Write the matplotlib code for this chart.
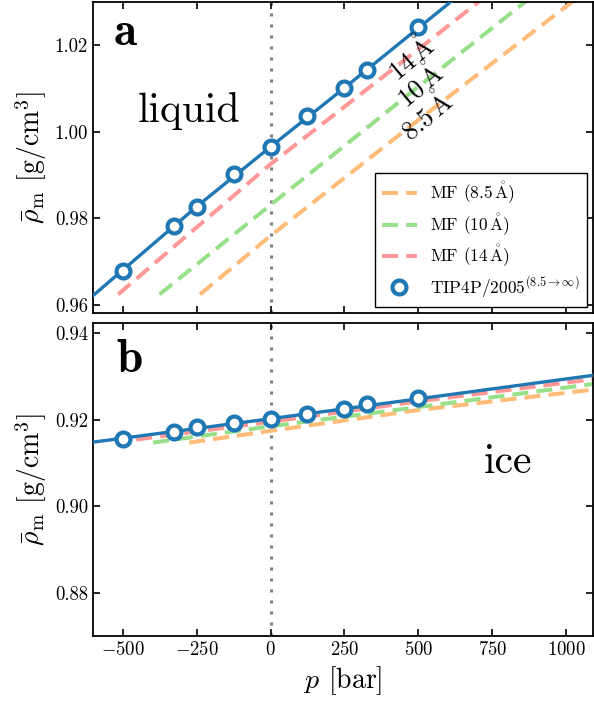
import numpy as np
import matplotlib
matplotlib.use("Agg")
import matplotlib.pyplot as plt

plt.rcParams['font.family'] = ['cmr10', 'STIXGeneral']
plt.rcParams['mathtext.fontset'] = 'cm'
plt.rcParams['axes.formatter.use_mathtext'] = True

# simulation points (TIP4P/2005)
p_sim = [-500, -325, -250, -125, 0, 125, 250, 325, 500]
rho_liq_sim = [0.9678, 0.9782, 0.9827, 0.9902, 0.9965, 1.0035, 1.0101, 1.0142, 1.0241]
rho_ice_sim = [0.9156, 0.9171, 0.9183, 0.9191, 0.9202, 0.9214, 0.9224, 0.9235, 0.9249]

# fit line through simulation
p_fit_liq = [-600, -250, 0, 250, 614]
rho_fit_liq = [0.9622, 0.9827, 0.9965, 1.0101, 1.0302]
p_fit_ice = [-600, 0, 1090]
rho_fit_ice = [0.9148, 0.9202, 0.9302]

# mean-field curves, liquid
p_mf_liq = {'8.5': [-238, 0, 500, 1025], '10': [-375, 0, 500, 866], '14': [-515, 0, 500, 709]}
rho_mf_liq = {'8.5': [0.9625, 0.9760, 1.0027, 1.0302],
              '10': [0.9625, 0.9831, 1.0104, 1.0302],
              '14': [0.9625, 0.9925, 1.0190, 1.0302]}
# mean-field curves, ice
p_mf_ice = {'8.5': [-275, 0, 500, 1090], '10': [-397, 0, 500, 1090], '14': [-454, 0, 500, 1090]}
rho_mf_ice = {'8.5': [0.9147, 0.9174, 0.9222, 0.9269],
              '10': [0.9147, 0.91845, 0.9229, 0.9282],
              '14': [0.9154, 0.9195, 0.9242, 0.9293]}

cutoffs = ['8.5', '10', '14']
mf_colors = {'8.5': '#ffbb78', '10': '#98df8a', '14': '#ff9896'}
blue = '#1f77b4'
ang = r'$\,\mathring{\mathrm{A}}$'

xticks = [-500, -250, 0, 250, 500, 750, 1000]
yticks_liq = [0.96, 0.98, 1.00, 1.02]
yticks_ice = [0.88, 0.90, 0.92, 0.94]

fig = plt.figure(figsize=(5.94, 7.02), dpi=100)
ax1 = fig.add_axes([93/594, 1-313/702, 500/594, 311.5/702])
ax2 = fig.add_axes([93/594, 1-636/702, 500/594, 312.7/702])

for ax, pf, rf, pm, rm, rs in [(ax1, p_fit_liq, rho_fit_liq, p_mf_liq, rho_mf_liq, rho_liq_sim),
                               (ax2, p_fit_ice, rho_fit_ice, p_mf_ice, rho_mf_ice, rho_ice_sim)]:
    ax.axvline(0, color='#808080', lw=2.2, dashes=(1, 2.6), zorder=1)
    for c in cutoffs:
        ax.plot(pm[c], rm[c], color=mf_colors[c], lw=2.9, dashes=(4, 2),
                label='MF (' + c + ang + ')', zorder=2)
    ax.plot(pf, rf, color=blue, lw=2.4, zorder=3)
    ax.plot(p_sim, rs, 'o', color=blue, mfc='white', ms=10, mew=3,
            label=r'TIP4P/2005$^{(8.5\to\infty)}$', zorder=4)
    ax.set_xlim(-600, 1090)
    ax.set_xticks(xticks)
    ax.tick_params(direction='in', top=True, right=True, length=5, width=1.2, labelsize=13.5)
    for s in ax.spines.values():
        s.set_linewidth(1.3)
    ax.set_ylabel(r'$\bar{\rho}_\mathrm{m}$ [g/cm$^3$]', fontsize=20)

ax1.set_ylim(0.9582, 1.0300)
ax1.set_yticks(yticks_liq)
ax1.set_yticklabels(['%.2f' % v for v in yticks_liq])
ax1.tick_params(labelbottom=False)
ax2.set_ylim(0.8701, 0.9422)
ax2.set_yticks(yticks_ice)
ax2.set_yticklabels(['%.2f' % v for v in yticks_ice])
ax2.set_xticklabels(['$-500$', '$-250$', '$0$', '$250$', '$500$', '$750$', '$1000$'])
ax2.set_xlabel(r'$p$ [bar]', fontsize=20)

leg = ax1.legend(loc='lower right', fontsize=12.5, frameon=True, fancybox=False,
                 edgecolor='black', framealpha=1, handlelength=2.0, labelspacing=0.3,
                 borderaxespad=0.35)
leg.get_frame().set_linewidth(1.0)

ax1.text(0.04, 0.861, r'$\mathbf{a}$', transform=ax1.transAxes, fontsize=34)
ax2.text(0.045, 0.845, r'$\mathbf{b}$', transform=ax2.transAxes, fontsize=34)
ax1.text(0.09, 0.614, 'liquid', transform=ax1.transAxes, fontsize=30)
ax2.text(0.782, 0.52, 'ice', transform=ax2.transAxes, fontsize=30)

lab_x = [474, 502, 525]
lab_y = [1.0171, 1.0110, 1.0039]
for c, x, y in zip(['14', '10', '8.5'], lab_x, lab_y):
    ax1.text(x, y, c + ang, fontsize=19, rotation=40, ha='center', va='center',
             rotation_mode='anchor', zorder=5)

fig.savefig('out.png', dpi=100)
